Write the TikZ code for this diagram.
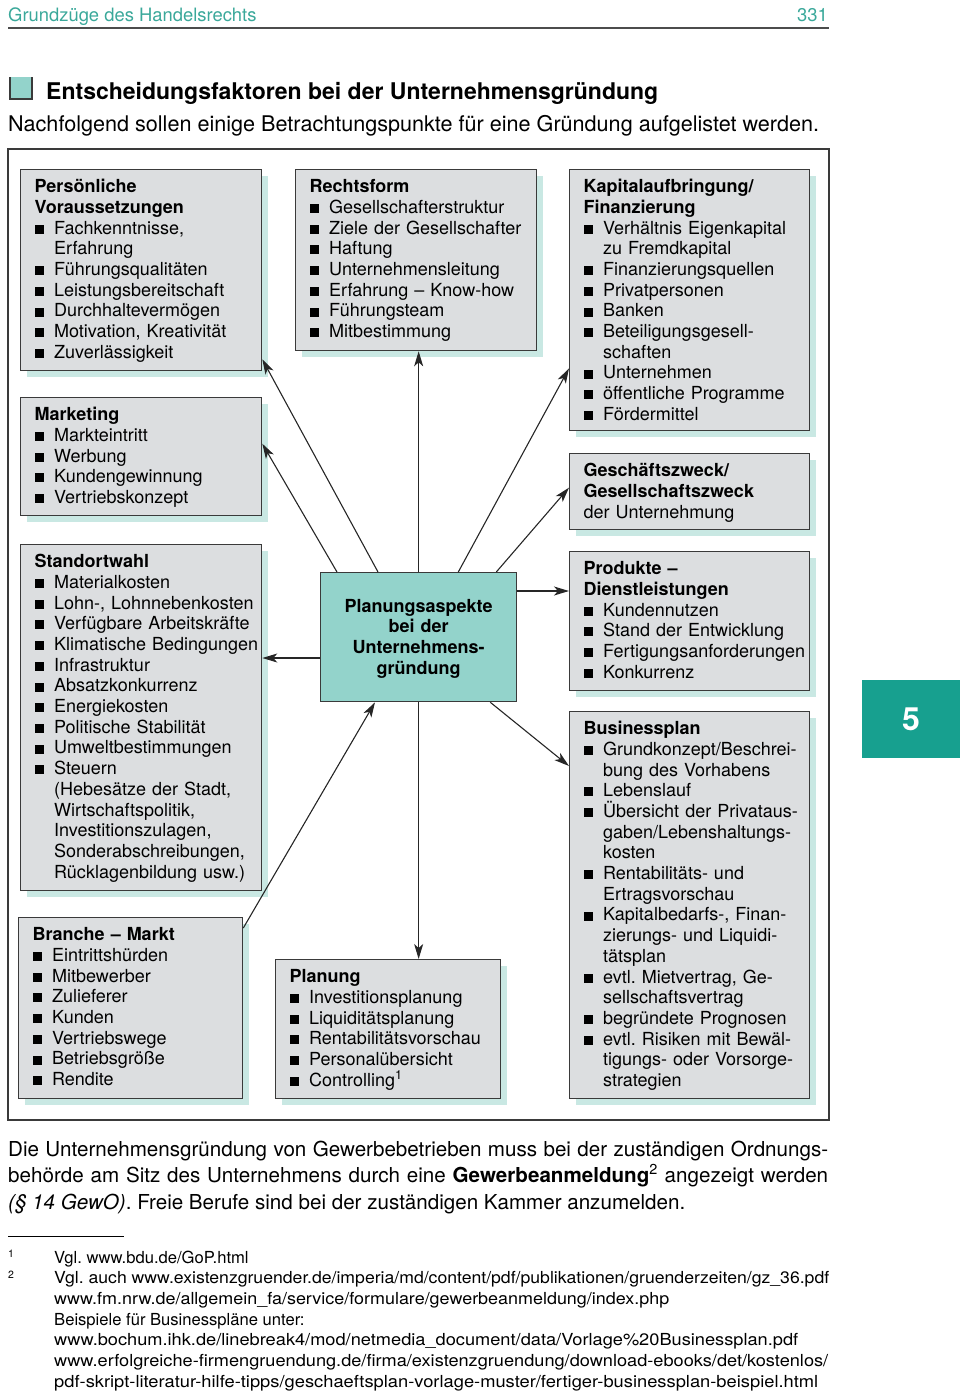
\documentclass[tikz,border=0pt]{standalone}
\usepackage{fontspec}
\setmainfont{TeX Gyre Heros}
\usetikzlibrary{arrows.meta,shadows,calc}
\definecolor{boxgray}{HTML}{DCDEE0}
\definecolor{shadowc}{HTML}{C9E8E3}
\definecolor{centerc}{HTML}{93D3CB}
\definecolor{headteal}{HTML}{3AA89A}
\definecolor{tabteal}{HTML}{17A08F}
\definecolor{linec}{HTML}{3A3A3A}
\newcommand\bu{\makebox[19.5pt][l]{\rule[0.3pt]{9pt}{9pt}}}
\newcommand\ct{\hspace*{19.5pt}}
\newcommand\boxin{\leftskip=14pt\relax\hyphenpenalty=10000\relax}
\newcommand\fitto[2]{\resizebox{#1}{\height}{#2}}
\tikzset{
  infobox/.style={draw=linec, line width=1.3pt, fill=boxgray,
    drop shadow={shadow xshift=6pt, shadow yshift=-6pt, fill=shadowc, opacity=1},
    inner sep=0pt, anchor=north west, align=left, text height=23pt,
    font=\fontsize{18}{20.7}\selectfont},
  centerbox/.style={draw=linec, line width=1.3pt, fill=centerc, inner sep=0pt,
    anchor=north west, align=center, font=\bfseries\fontsize{18}{20.7}\selectfont},
  arr/.style={draw=black!85, line width=1.1pt, -{Stealth[length=15pt,width=9pt,inset=4pt]}},
  txt/.style={anchor=base west, inner sep=0pt},
  paraf/.style={txt, font=\fontsize{20.6}{26.5}\selectfont},
  fnf/.style={txt, font=\fontsize{16.6}{20.7}\selectfont},
}
\begin{document}
\frenchspacing
\begin{tikzpicture}[x=1pt, y=-1pt, inner sep=0pt]
\useasboundingbox (0,0) rectangle (960,1393);
% header
\node[txt, text=headteal, font=\fontsize{18.4}{22}\selectfont] (hd) at (8,21) {Grundzüge des Handelsrechts};
\node[anchor=base east, text=headteal, font=\fontsize{18.4}{22}\selectfont] (pg) at (828,21) {331};
\draw[line width=1.5pt, draw=black!70] (8,28) -- (829,28);
% title
\fill[centerc] (10,77) rectangle (32,99);
\draw[linec, line width=1.5pt] (10,77) -- (10,99) -- (32,99) -- (32,77);
\node[txt, font=\bfseries\fontsize{23}{27}\selectfont] (title) at (46,99) {Entscheidungsfaktoren bei der Unternehmensgründung};
\node[txt, font=\fontsize{21.6}{24}\selectfont] (intro) at (8,131) {Nachfolgend sollen einige Betrachtungspunkte für eine Gründung aufgelistet werden.};
% frame
\draw[linec, line width=1.2pt] (8,149) rectangle (829,1120);
% boxes
\node[infobox, text width=241pt, text depth=178pt] (P) at (20,169) {\boxin
\textbf{Persönliche}\\
\textbf{Voraussetzungen}\\
\bu Fachkenntnisse,\\
\ct Erfahrung\\
\bu Führungsqualitäten\\
\bu Leistungsbereitschaft\\
\bu Durchhaltevermögen\\
\bu Motivation, Kreativität\\
\bu Zuverlässigkeit\par};
\node[infobox, text width=241pt, text depth=95pt] (M) at (20,397) {\boxin
\textbf{Marketing}\\
\bu Markteintritt\\
\bu Werbung\\
\bu Kundengewinnung\\
\bu Vertriebskonzept\par};
\node[infobox, text width=241pt, text depth=158pt] (R) at (295,169) {\boxin
\textbf{Rechtsform}\\
\bu Gesellschafterstruktur\\
\bu Ziele der Gesellschafter\\
\bu Haftung\\
\bu Unternehmensleitung\\
\bu Erfahrung – Know-how\\
\bu Führungsteam\\
\bu Mitbestimmung\par};
\node[infobox, text width=240pt, text depth=238pt] (K) at (569,169) {\boxin
\textbf{Kapitalaufbringung/}\\
\textbf{Finanzierung}\\
\bu Verhältnis Eigenkapital\\
\ct zu Fremdkapital\\
\bu Finanzierungsquellen\\
\bu Privatpersonen\\
\bu Banken\\
\bu Beteiligungsgesell-\\
\ct schaften\\
\bu Unternehmen\\
\bu öffentliche Programme\\
\bu Fördermittel\par};
\node[infobox, text width=240pt, text depth=53pt] (G) at (569,453) {\boxin
\textbf{Geschäftszweck/}\\
\textbf{Gesellschaftszweck}\\
der Unternehmung\par};
\node[infobox, text width=240pt, text depth=116pt] (D) at (569,551) {\boxin
\textbf{Produkte –}\\
\textbf{Dienstleistungen}\\
\bu Kundennutzen\\
\bu Stand der Entwicklung\\
\bu Fertigungsanforderungen\\
\bu Konkurrenz\par};
\node[infobox, text width=240pt, text depth=364pt] (B) at (569,711) {\boxin
\textbf{Businessplan}\\
\bu Grundkonzept/Beschrei-\\
\ct bung des Vorhabens\\
\bu Lebenslauf\\
\bu Übersicht der Privataus-\\
\ct gaben/Lebenshaltungs-\\
\ct kosten\\
\bu Rentabilitäts- und\\
\ct Ertragsvorschau\\
\bu Kapitalbedarfs-, Finan-\\
\ct zierungs- und Liquidi-\\
\ct tätsplan\\
\bu evtl. Mietvertrag, Ge-\\
\ct sellschaftsvertrag\\
\bu begründete Prognosen\\
\bu evtl. Risiken mit Bewäl-\\
\ct tigungs- oder Vorsorge-\\
\ct strategien\par};
\node[infobox, text width=241pt, text depth=323pt] (S) at (20,544) {\boxin
\textbf{Standortwahl}\\
\bu Materialkosten\\
\bu Lohn-, Lohnnebenkosten\\
\bu Verfügbare Arbeitskräfte\\
\bu Klimatische Bedingungen\\
\bu Infrastruktur\\
\bu Absatzkonkurrenz\\
\bu Energiekosten\\
\bu Politische Stabilität\\
\bu Umweltbestimmungen\\
\bu Steuern\\
\ct (Hebesätze der Stadt,\\
\ct Wirtschaftspolitik,\\
\ct Investitionszulagen,\\
\ct Sonderabschreibungen,\\
\ct Rücklagenbildung usw.)\par};
\node[infobox, text width=224pt, text depth=158pt] (Bm) at (18,917) {\boxin
\textbf{Branche – Markt}\\
\bu Eintrittshürden\\
\bu Mitbewerber\\
\bu Zulieferer\\
\bu Kunden\\
\bu Vertriebswege\\
\bu Betriebsgröße\\
\bu Rendite\par};
\node[infobox, text width=225pt, text depth=116pt] (Pl) at (275,959) {\boxin
\textbf{Planung}\\
\bu Investitionsplanung\\
\bu Liquiditätsplanung\\
\bu Rentabilitätsvorschau\\
\bu Personalübersicht\\
\bu Controlling\textsuperscript{1}\par};
\node[centerbox, text width=196pt, text height=39.5pt, text depth=89.5pt] (C) at (320,572) {Planungsaspekte\\bei der\\Unternehmens-\\gründung};
% connectors
\coordinate (cd) at ([yshift=-19pt]C.north east);
\coordinate (cs) at ([yshift=-86pt]C.north west);
\draw[arr] ([xshift=58pt]C.north west) -- ([yshift=12pt]P.south east);
\draw[arr] ([xshift=17pt]C.north west) -- ([yshift=13pt]M.east);
\draw[arr] (C.north) -- (C.north |- R.south);
\draw[arr] ([xshift=-59pt]C.north east) -- ([yshift=63pt]K.south west);
\draw[arr] ([xshift=-21pt]C.north east) -- ([yshift=4pt]G.west);
\draw[arr] (cd) -- (cd -| D.west);
\draw[arr] (cs) -- (cs -| S.east);
\draw[arr] ([xshift=-27pt]C.south east) -- ([yshift=-55pt]B.north west);
\draw[arr] (C.south) -- (C.south |- Pl.north);
\draw[arr] ([yshift=-11pt]Bm.north east) -- ([xshift=55pt]C.south west);
% side tab
\fill[tabteal] (862,680) rectangle (962,758);
\node[text=white, font=\bfseries\fontsize{32}{36}\selectfont] (tab) at (911,719) {5};
% paragraph
\node[paraf] (l1) at (8,1156) {\makebox[820pt][s]{Die Unternehmensgründung von Gewerbebetrieben muss bei der zuständigen Ordnungs-}};
\node[paraf] (l2) at (8,1182.5) {\makebox[820pt][s]{behörde am Sitz des Unternehmens durch eine \textbf{Gewerbeanmeldung}\textsuperscript{2} angezeigt werden}};
\node[paraf] (l3) at (8,1209) {\textit{(§ 14 GewO)}. Freie Berufe sind bei der zuständigen Kammer anzumelden.};
% footnotes
\draw[line width=0.9pt] (8,1236) -- (124,1236);
\node[txt, font=\fontsize{10.5}{12}\selectfont] (m1) at (8,1257) {1};
\node[txt, font=\fontsize{10.5}{12}\selectfont] (m2) at (8,1278) {2};
\node[fnf] (f1) at (54,1263) {Vgl. www.bdu.de/GoP.html};
\node[fnf] (f2) at (54,1283.7) {\fitto{775pt}{Vgl. auch www.existenzgruender.de/imperia/md/content/pdf/publikationen/gruenderzeiten/gz\_36.pdf}};
\node[fnf] (f3) at (54,1304.4) {\fitto{615pt}{www.fm.nrw.de/allgemein\_fa/service/formulare/gewerbeanmeldung/index.php}};
\node[fnf] (f4) at (54,1325.1) {Beispiele für Businesspläne unter:};
\node[fnf] (f5) at (54,1345.8) {\fitto{744pt}{www.bochum.ihk.de/linebreak4/mod/netmedia\_document/data/Vorlage\%20Businessplan.pdf}};
\node[fnf] (f6) at (54,1366.5) {\fitto{774pt}{www.erfolgreiche-firmengruendung.de/firma/existenzgruendung/download-ebooks/det/kostenlos/}};
\node[fnf] (f7) at (54,1387.2) {\fitto{764pt}{pdf-skript-literatur-hilfe-tipps/geschaeftsplan-vorlage-muster/fertiger-businessplan-beispiel.html}};
\end{tikzpicture}
\end{document}
